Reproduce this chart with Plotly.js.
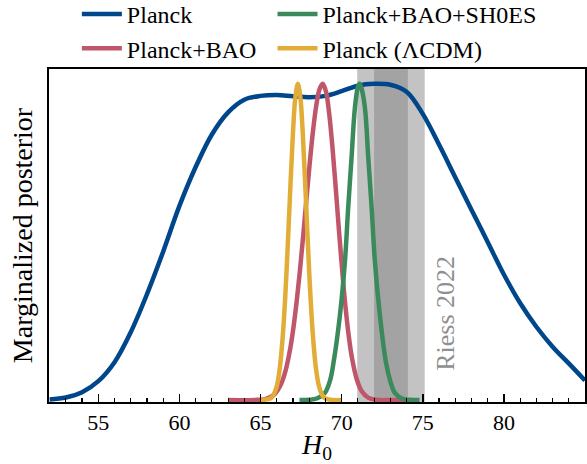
<!DOCTYPE html>
<html>
<head>
<meta charset="utf-8">
<script src="https://cdn.plot.ly/plotly-3.0.1.min.js"></script>
<style>html,body{margin:0;padding:0;background:#fff;}#chart{width:587px;height:464px;}</style>
</head>
<body>
<div id="chart"></div>
<script>
// Planck (broad posterior)
const planckH = [52,53,54,55,56,57,58,59,60,61,62,63,64,65,66,67,68,69,70,71,72,73,74,75,76,77,78,79,80,81,82,83,84,85];
const planckP = [0.002,0.008,0.025,0.06,0.12,0.215,0.335,0.47,0.614,0.737,0.84,0.91,0.95,0.962,0.965,0.961,0.958,0.962,0.977,0.994,1.0,0.997,0.975,0.905,0.808,0.705,0.602,0.5,0.397,0.307,0.232,0.169,0.116,0.062];

// Planck+BAO
const baoH = [63.0,64.83,65.33,65.83,66.23,66.53,66.83,67.03,67.23,67.43,67.63,67.83,68.03,68.23,68.43,68.63,68.83,69.03,69.23,69.43,69.63,69.83,70.03,70.23,70.43,70.63,70.93,71.23,71.63,72.13,73.0,74.0];
const baoP = [0,0.001,0.004,0.017,0.047,0.091,0.163,0.23,0.313,0.411,0.52,0.636,0.748,0.849,0.93,0.982,1.0,0.976,0.906,0.801,0.674,0.539,0.411,0.298,0.206,0.135,0.066,0.029,0.008,0.001,0,0];

// Planck+BAO+SH0ES
const shoesH = [67.4,68.0,68.5,68.97,69.3,69.5,69.89,70.2,70.4,70.61,70.82,71.0,71.1,71.2,71.43,71.64,71.85,72.05,72.36,72.73,73.0,73.28,73.7,74.2,74.8];
const shoesP = [0,0.001,0.006,0.023,0.065,0.119,0.267,0.437,0.607,0.767,0.926,0.99,1.0,0.99,0.926,0.767,0.607,0.437,0.267,0.119,0.06,0.023,0.005,0.001,0];

// Planck (LCDM)
const lcdmH = [65.0,65.6,65.8,66.0,66.2,66.4,66.6,66.8,67.0,67.15,67.3,67.45,67.6,67.8,68.0,68.2,68.4,68.6,68.8,69.0,69.5,70.0];
const lcdmP = [0,0.005,0.016,0.044,0.107,0.224,0.404,0.63,0.847,0.959,1.0,0.959,0.847,0.63,0.404,0.224,0.107,0.044,0.016,0.005,0,0];

// Riess 2022: mean, 1-sigma
const riess = [73.04, 1.04];

const xTickVals = [55,60,65,70,75,80];
const xTickText = ['55','60','65','70','75','80'];

const FONT = 'Liberation Serif';
const mk = (x, y, name, color, leg) => ({
  x: x, y: y, name: name, type: 'scatter', mode: 'lines',
  line: {color: color, width: 4.5, shape: 'spline', smoothing: 1},
  legend: leg, hoverinfo: 'skip'
});

const traces = [
  mk(planckH, planckP, 'Planck', '#00468b', 'legend'),
  mk(baoH, baoP, 'Planck+BAO', '#c0566a', 'legend2'),
  mk(shoesH, shoesP, 'Planck+BAO+SH0ES', '#3a8a5c', 'legend3'),
  mk(lcdmH, lcdmP, 'Planck (ΛCDM)', '#e2ad36', 'legend4')
];

const legBase = (x, y) => ({
  x: x, xanchor: 'left', y: y, yanchor: 'middle',
  itemwidth: 40,
  font: {family: FONT, size: 24, color: '#000'},
  bgcolor: 'rgba(0,0,0,0)', borderwidth: 0
});

const layout = {
  width: 587, height: 464,
  margin: {l: 49, r: 2, t: 69, b: 62, autoexpand: false},
  paper_bgcolor: '#fff', plot_bgcolor: '#fff',
  font: {family: FONT, color: '#000', size: 22},
  showlegend: true,
  legend: legBase(0.052, 1.164),
  legend2: legBase(0.052, 1.061),
  legend3: legBase(0.417, 1.164),
  legend4: legBase(0.417, 1.061),
  xaxis: {
    range: [51.96, 85.0], showgrid: false, zeroline: false,
    showline: true, linecolor: '#000', linewidth: 2, mirror: true,
    ticks: 'inside', ticklen: 8, tickwidth: 1.5, tickcolor: '#000',
    tickvals: xTickVals, ticktext: xTickText,
    tickfont: {family: FONT, size: 22, color: '#000'},
    minor: {dtick: 1, tick0: 0, ticks: 'inside', ticklen: 4.5, tickwidth: 1.2, tickcolor: '#000', showgrid: false},
    title: {text: '<i>H</i><sub>0</sub>', font: {family: FONT, size: 28, color: '#000'}, standoff: 9}
  },
  yaxis: {
    range: [-0.006, 1.047], showgrid: false, zeroline: false,
    showline: true, linecolor: '#000', linewidth: 2, mirror: true,
    ticks: '', showticklabels: false,
    title: {text: 'Marginalized posterior', font: {family: FONT, size: 28, color: '#000'}, standoff: 6}
  },
  shapes: [
    {type: 'rect', xref: 'x', yref: 'paper', x0: riess[0] - 2*riess[1], x1: riess[0] + 2*riess[1], y0: 0, y1: 1,
     fillcolor: '#c3c3c3', line: {width: 0}, layer: 'below'},
    {type: 'rect', xref: 'x', yref: 'paper', x0: riess[0] - riess[1], x1: riess[0] + riess[1], y0: 0, y1: 1,
     fillcolor: '#a3a3a3', line: {width: 0}, layer: 'below'}
  ],
  annotations: [
    {text: 'Riess 2022', x: 76.35, y: 0.275, xref: 'x', yref: 'y', showarrow: false, textangle: -90,
     font: {family: FONT, size: 26, color: '#8f8f8f'}}
  ]
};

Plotly.newPlot('chart', traces, layout, {displayModeBar: false, staticPlot: true});
</script>
</body>
</html>
